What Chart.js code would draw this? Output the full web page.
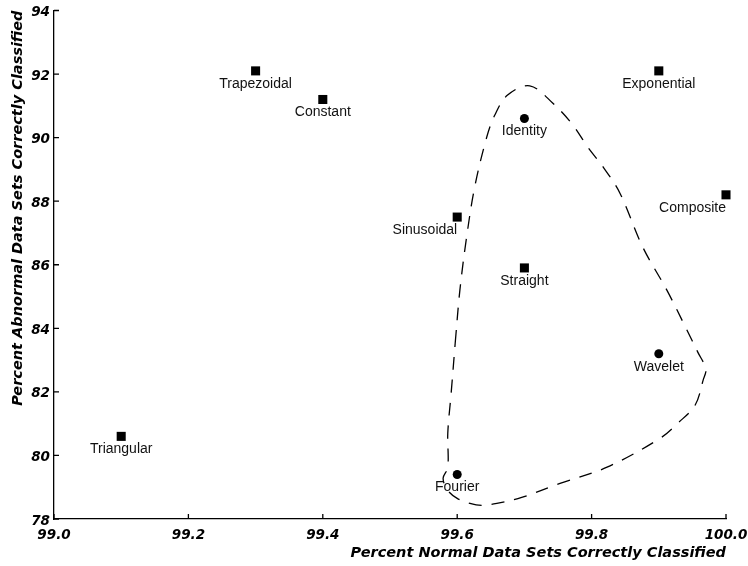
<!DOCTYPE html>
<html>
<head>
<meta charset="utf-8">
<script src="https://cdn.jsdelivr.net/npm/chart.js@4/dist/chart.umd.min.js"></script>
<style>
  html, body { margin: 0; padding: 0; background: #fff; }
  #c { display: block; }
</style>
</head>
<body>
<canvas id="c" width="748" height="566"></canvas>
<script>
// Transforms drawn with square markers
const squareNames    = ['Trapezoidal', 'Constant', 'Exponential', 'Composite', 'Sinusoidal', 'Straight', 'Triangular'];
const squareNormal   = [99.3, 99.4, 99.9, 100.0, 99.6, 99.7, 99.1];
const squareAbnormal = [92.1, 91.2, 92.1, 88.2, 87.5, 85.9, 80.6];

// Transforms drawn with round markers
const circleNames    = ['Identity', 'Wavelet', 'Fourier'];
const circleNormal   = [99.7, 99.9, 99.6];
const circleAbnormal = [90.6, 83.2, 79.4];

// Dashed boundary around the best-performing group (closed loop)
const boundaryNormal = [
  99.597, 99.604, 99.614, 99.626, 99.644, 99.656, 99.675, 99.708, 99.742, 99.772,
  99.795, 99.817, 99.842, 99.876, 99.912, 99.942, 99.958, 99.970, 99.966, 99.954,
  99.928, 99.902, 99.823, 99.753, 99.696, 99.659, 99.637, 99.619, 99.600, 99.586,
  99.579, 99.586, 99.586, 99.591, 99.597
];
const boundaryAbnormal = [
  83.53, 85.20, 86.87, 88.44, 90.02, 90.71, 91.34, 91.63, 91.09, 90.40,
  89.68, 89.08, 88.26, 86.56, 85.20, 83.94, 83.25, 82.72, 82.37, 81.58,
  81.01, 80.54, 79.63, 79.12, 78.68, 78.49, 78.43, 78.49, 78.65, 78.90,
  79.28, 79.62, 80.70, 81.96, 83.53
];

// Axis ticks
const xTickValues = [99.0, 99.2, 99.4, 99.6, 99.8, 100.0];
const xTickLabels = ['99.0', '99.2', '99.4', '99.6', '99.8', '100.0'];
const yTickValues = [78, 80, 82, 84, 86, 88, 90, 92, 94];
const yTickLabels = ['78', '80', '82', '84', '86', '88', '90', '92', '94'];

// Labels placed to the lower-left of their marker instead of centred below it
const rightAlignedLabels = new Set(['Sinusoidal', 'Composite']);

const toPoints = (xs, ys) => xs.map((x, i) => ({ x, y: ys[i] }));

const axisFont = { family: '"DejaVu Sans", sans-serif', size: 13.5, weight: 'bold', style: 'italic' };
const titleFont = { family: '"DejaVu Sans", sans-serif', size: 14.5, weight: 'bold', style: 'italic' };

// Short tick marks pointing into the plot area
const innerTicks = {
  id: 'innerTicks',
  afterDatasetsDraw(chart) {
    const { ctx, chartArea, scales: { x, y } } = chart;
    ctx.save();
    ctx.strokeStyle = '#000';
    ctx.lineWidth = 1.3;
    ctx.beginPath();
    x.ticks.forEach(t => {
      const px = x.getPixelForValue(t.value);
      ctx.moveTo(px, chartArea.bottom);
      ctx.lineTo(px, chartArea.bottom - 5);
    });
    y.ticks.forEach(t => {
      const py = y.getPixelForValue(t.value);
      ctx.moveTo(chartArea.left, py);
      ctx.lineTo(chartArea.left + 5, py);
    });
    ctx.stroke();
    ctx.restore();
  }
};

// Name of each transform written under its marker
const markerLabels = {
  id: 'markerLabels',
  afterDatasetsDraw(chart) {
    const { ctx } = chart;
    ctx.save();
    ctx.fillStyle = '#111';
    ctx.font = '14px "Liberation Sans", Arial, sans-serif';
    ctx.textBaseline = 'middle';
    chart.data.datasets.forEach((ds, di) => {
      if (!ds.names) return;
      const meta = chart.getDatasetMeta(di);
      meta.data.forEach((el, i) => {
        const name = ds.names[i];
        ctx.textAlign = rightAlignedLabels.has(name) ? 'right' : 'center';
        ctx.fillText(name, el.x, el.y + 13);
      });
    });
    ctx.restore();
  }
};

new Chart(document.getElementById('c'), {
  type: 'scatter',
  data: {
    datasets: [
      {
        data: toPoints(boundaryNormal, boundaryAbnormal),
        showLine: true,
        borderColor: '#000',
        borderWidth: 1.3,
        borderDash: [13, 10],
        tension: 0.35,
        pointRadius: 0,
        fill: false,
        clip: false
      },
      {
        names: squareNames,
        data: toPoints(squareNormal, squareAbnormal),
        pointStyle: 'rect',
        pointRadius: 6.4,
        backgroundColor: '#000',
        borderColor: '#000',
        borderWidth: 0,
        clip: false
      },
      {
        names: circleNames,
        data: toPoints(circleNormal, circleAbnormal),
        pointStyle: 'circle',
        pointRadius: 4.5,
        backgroundColor: '#000',
        borderColor: '#000',
        borderWidth: 0,
        clip: false
      }
    ]
  },
  options: {
    responsive: false,
    animation: false,
    devicePixelRatio: 1,
    layout: { padding: { top: 10.5, right: 22, bottom: 0, left: 0 } },
    plugins: { legend: { display: false }, tooltip: { enabled: false } },
    scales: {
      x: {
        type: 'linear',
        min: 99.0,
        max: 100.0,
        afterFit(s) { s.height = 47; s.paddingLeft = 0; s.paddingRight = 0; },
        afterBuildTicks(s) { s.ticks = xTickValues.map(v => ({ value: v })); },
        grid: { display: false, drawTicks: false },
        border: { display: true, color: '#000', width: 1.3 },
        ticks: {
          color: '#000',
          font: axisFont,
          padding: 8,
          maxRotation: 0,
          autoSkip: false,
          callback: (v, i) => xTickLabels[i]
        },
        title: {
          display: true,
          text: 'Percent Normal Data Sets Correctly Classified',
          align: 'end',
          color: '#000',
          font: titleFont,
          padding: { top: 0, bottom: 4 }
        }
      },
      y: {
        type: 'linear',
        min: 78,
        max: 94,
        afterFit(s) { s.width = 54; s.paddingTop = 0; s.paddingBottom = 0; },
        afterBuildTicks(s) { s.ticks = yTickValues.map(v => ({ value: v })); },
        grid: { display: false, drawTicks: false },
        border: { display: true, color: '#000', width: 1.3 },
        ticks: {
          color: '#000',
          font: axisFont,
          padding: 4,
          labelOffset: 2,
          autoSkip: false,
          callback: (v, i) => yTickLabels[i]
        },
        title: {
          display: true,
          text: 'Percent Abnormal Data Sets Correctly Classified',
          align: 'end',
          color: '#000',
          font: titleFont,
          padding: { top: 10, bottom: 0 }
        }
      }
    }
  },
  plugins: [innerTicks, markerLabels]
});
</script>
</body>
</html>
